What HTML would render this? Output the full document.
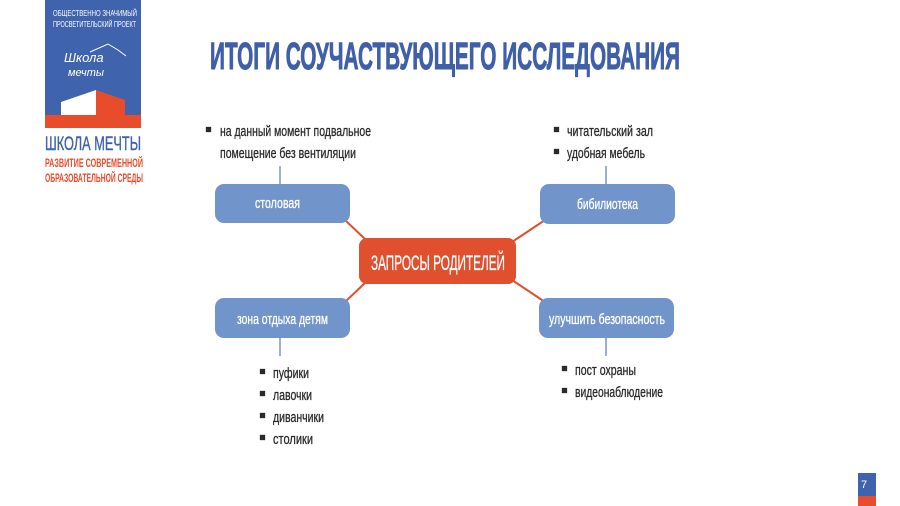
<!DOCTYPE html>
<html><head><meta charset="utf-8"><style>
html,body{margin:0;padding:0;background:#fff;}
svg{display:block}
text{font-family:"Liberation Sans Narrow","Liberation Sans",sans-serif;}
</style></head><body>
<svg width="900" height="506" viewBox="0 0 900 506" xmlns="http://www.w3.org/2000/svg">
<rect width="900" height="506" fill="#fff"/>
<!-- logo -->
<rect x="45" y="0" width="96" height="128" fill="#3f63ad"/>
<text x="53" y="16" fill="#fff" font-size="8" textLength="84" lengthAdjust="spacingAndGlyphs">ОБЩЕСТВЕННО ЗНАЧИМЫЙ</text>
<text x="53" y="27" fill="#fff" font-size="8" textLength="83" lengthAdjust="spacingAndGlyphs">ПРОСВЕТИТЕЛЬСКИЙ ПРОЕКТ</text>
<text x="64" y="62" fill="#fff" font-size="13" font-style="italic" font-family="Liberation Serif">Школа</text>
<text x="68" y="76" fill="#fff" font-size="11" font-style="italic" font-family="Liberation Serif">мечты</text>
<path d="M90 52 L108 44 L118 50 L126 56" stroke="#fff" stroke-width="1" fill="none"/>
<polygon points="61,102 96,90 96,115 61,115" fill="#fff"/>
<polygon points="96,90 125,100 125,115 96,115" fill="#e84c2b"/>
<rect x="45" y="115" width="96" height="13" fill="#e84c2b"/>
<text x="45" y="150" fill="#3f63ad" font-size="19" stroke="#3f63ad" stroke-width="0.4" textLength="96" lengthAdjust="spacingAndGlyphs">ШКОЛА МЕЧТЫ</text>
<text x="45" y="167" fill="#e84c2b" font-size="11.5" font-weight="bold" textLength="98" lengthAdjust="spacingAndGlyphs">РАЗВИТИЕ СОВРЕМЕННОЙ</text>
<text x="45" y="182" fill="#e84c2b" font-size="11.5" font-weight="bold" textLength="98" lengthAdjust="spacingAndGlyphs">ОБРАЗОВАТЕЛЬНОЙ СРЕДЫ</text>
<!-- title -->
<text x="210" y="69" fill="#3f5fa8" stroke="#3f5fa8" stroke-width="1" font-size="38" font-weight="bold" textLength="470" lengthAdjust="spacingAndGlyphs">ИТОГИ СОУЧАСТВУЮЩЕГО ИССЛЕДОВАНИЯ</text>
<!-- connectors -->
<g stroke="#e0502e" stroke-width="2">
<line x1="345" y1="220" x2="366" y2="240"/>
<line x1="545" y1="220" x2="512" y2="242"/>
<line x1="345" y1="302" x2="366" y2="282"/>
<line x1="545" y1="302" x2="512" y2="280"/>
</g>
<g stroke="#7d93c4" stroke-width="1.5">
<line x1="280" y1="166" x2="280" y2="184"/>
<line x1="606" y1="166" x2="606" y2="184"/>
<line x1="280" y1="338" x2="280" y2="356"/>
<line x1="606" y1="338" x2="606" y2="356"/>
</g>
<!-- boxes -->
<rect x="215" y="184" width="135" height="39" rx="9" fill="#7195cb"/>
<rect x="540" y="184" width="135" height="40" rx="9" fill="#7195cb"/>
<rect x="215" y="298" width="135" height="40" rx="9" fill="#7195cb"/>
<rect x="539" y="298" width="135" height="40" rx="9" fill="#7195cb"/>
<rect x="359" y="238" width="157" height="46" rx="8" fill="#e0502e"/>
<g fill="#fff" font-size="15" stroke="#fff" stroke-width="0.3">
<text x="255" y="208" textLength="45" lengthAdjust="spacingAndGlyphs">столовая</text>
<text x="577" y="209" textLength="61" lengthAdjust="spacingAndGlyphs">бибилиотека</text>
<text x="237" y="324" textLength="91" lengthAdjust="spacingAndGlyphs">зона отдыха детям</text>
<text x="549" y="324" textLength="116" lengthAdjust="spacingAndGlyphs">улучшить безопасность</text>
<text x="371" y="270" font-size="21" textLength="134" lengthAdjust="spacingAndGlyphs">ЗАПРОСЫ РОДИТЕЛЕЙ</text>
</g>
<!-- bullets -->
<g fill="#2a2a2a" font-size="15" stroke="#2a2a2a" stroke-width="0.3">
<rect x="206" y="127" width="5" height="5"/>
<text x="220" y="136" textLength="151" lengthAdjust="spacingAndGlyphs">на данный момент подвальное</text>
<text x="220" y="158" textLength="136" lengthAdjust="spacingAndGlyphs">помещение без вентиляции</text>
<rect x="554" y="127" width="5" height="5"/>
<text x="567" y="136" textLength="86" lengthAdjust="spacingAndGlyphs">читательский зал</text>
<rect x="554" y="149" width="5" height="5"/>
<text x="567" y="158" textLength="78" lengthAdjust="spacingAndGlyphs">удобная мебель</text>
<rect x="260" y="369" width="5" height="5"/>
<text x="273" y="378" textLength="36" lengthAdjust="spacingAndGlyphs">пуфики</text>
<rect x="260" y="391" width="5" height="5"/>
<text x="273" y="400" textLength="39" lengthAdjust="spacingAndGlyphs">лавочки</text>
<rect x="260" y="413" width="5" height="5"/>
<text x="273" y="422" textLength="51" lengthAdjust="spacingAndGlyphs">диванчики</text>
<rect x="260" y="435" width="5" height="5"/>
<text x="273" y="444" textLength="40" lengthAdjust="spacingAndGlyphs">столики</text>
<rect x="562" y="366" width="5" height="5"/>
<text x="575" y="375" textLength="61" lengthAdjust="spacingAndGlyphs">пост охраны</text>
<rect x="562" y="388" width="5" height="5"/>
<text x="575" y="397" textLength="88" lengthAdjust="spacingAndGlyphs">видеонаблюдение</text>
</g>
<!-- page num -->
<rect x="858" y="473" width="18" height="23" fill="#3f63ad"/>
<rect x="858" y="496" width="18" height="10" fill="#e84c2b"/>
<text x="861" y="488" fill="#fff" font-size="11">7</text>
</svg>
</body></html>
